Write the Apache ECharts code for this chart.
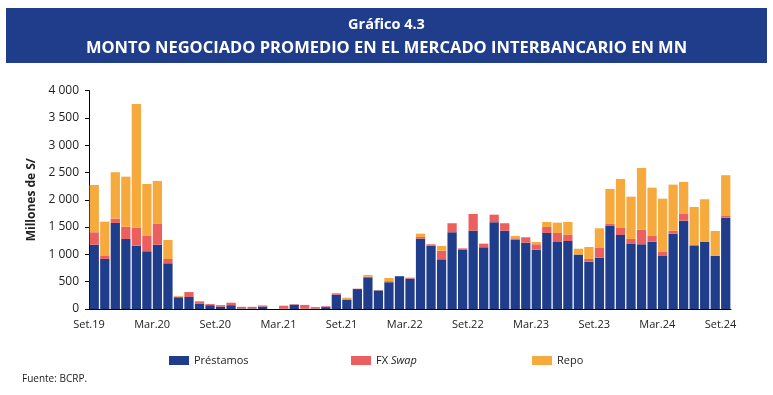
<!DOCTYPE html>
<html>
<head>
<meta charset="utf-8">
<script src="https://cdn.jsdelivr.net/npm/echarts@6/dist/echarts.min.js"></script>
<style>
html,body{margin:0;padding:0;background:#fff;}
#chart{width:773px;height:395px;}
</style>
</head>
<body>
<div id="chart"></div>
<script>
const categories = [
 'Set.19','Oct.19','Nov.19','Dic.19',
 'Ene.20','Feb.20','Mar.20','Abr.20','May.20','Jun.20','Jul.20','Ago.20','Set.20','Oct.20','Nov.20','Dic.20',
 'Ene.21','Feb.21','Mar.21','Abr.21','May.21','Jun.21','Jul.21','Ago.21','Set.21','Oct.21','Nov.21','Dic.21',
 'Ene.22','Feb.22','Mar.22','Abr.22','May.22','Jun.22','Jul.22','Ago.22','Set.22','Oct.22','Nov.22','Dic.22',
 'Ene.23','Feb.23','Mar.23','Abr.23','May.23','Jun.23','Jul.23','Ago.23','Set.23','Oct.23','Nov.23','Dic.23',
 'Ene.24','Feb.24','Mar.24','Abr.24','May.24','Jun.24','Jul.24','Ago.24','Set.24'
];
const prestamos = [
 1178, 916, 1575, 1282,
 1159, 1057, 1178, 837, 215, 220, 100, 70, 45, 70, 10, 10,
 45, 0, 5, 80, 5, 5, 35, 262, 170, 365, 580, 340,
 490, 600, 555, 1288, 1160, 910, 1405, 1080, 1434, 1130, 1588, 1434,
 1264, 1214, 1086, 1392, 1227, 1245, 995, 867, 940, 1520, 1355, 1190,
 1185, 1233, 971, 1379, 1617, 1154, 1227, 976, 1672
];
const fxSwap = [
 227, 55, 79, 225,
 330, 280, 379, 79, 10, 90, 40, 20, 25, 45, 30, 30,
 20, 0, 55, 8, 70, 30, 15, 25, 10, 7, 15, 8,
 20, 0, 18, 31, 25, 158, 165, 30, 306, 66, 139, 136,
 31, 99, 99, 110, 165, 116, 5, 49, 177, 37, 128, 92,
 267, 104, 73, 55, 123, 18, 0, 0, 31
];
const repo = [
 866, 628, 850, 916,
 2266, 952, 787, 348, 15, 0, 0, 0, 0, 0, 0, 0,
 0, 0, 0, 0, 0, 0, 0, 0, 27, 0, 28, 0,
 58, 0, 0, 60, 0, 86, 0, 0, 0, 0, 0, 0,
 42, 0, 42, 91, 189, 232, 104, 220, 361, 641, 898, 775,
 1130, 885, 976, 843, 586, 696, 782, 453, 746
];
const yTicks = [0,500,1000,1500,2000,2500,3000,3500,4000];

const chart = echarts.init(document.getElementById('chart'), null, {renderer:'canvas'});
const FONT = '"Open Sans", "Noto Sans", sans-serif';
const bandW = 642/61;

function legendItem(name, left){
  return {
    data:[name], left:left, top:350, itemWidth:20, itemHeight:9, icon:'rect',
    textStyle:{fontFamily:FONT, fontSize:11, color:'#222', rich:{i:{fontStyle:'italic', fontFamily:FONT, fontSize:11, color:'#222'}}},
    formatter: function(n){ return n === 'FX Swap' ? 'FX {i|Swap}' : n; },
    selectedMode:false
  };
}

chart.setOption({
  animation:false,
  backgroundColor:'#fff',
  graphic:[
    {type:'rect', shape:{x:6, y:8, width:761, height:55}, style:{fill:'#1f3d8a'}, z:0}
  ],
  title:[
    {text:'Gráfico 4.3', left:'center', top:12, textStyle:{color:'#fff', fontFamily:FONT, fontWeight:'bold', fontSize:14.5}},
    {text:'MONTO NEGOCIADO PROMEDIO EN EL MERCADO INTERBANCARIO EN MN', left:'center', top:35, textStyle:{color:'#fff', fontFamily:FONT, fontWeight:'bold', fontSize:16.5}},
    {text:'Fuente: BCRP.', left:17, top:369, textStyle:{color:'#222', fontFamily:FONT, fontWeight:'normal', fontSize:10}}
  ],
  legend:[ legendItem('Préstamos',164), legendItem('FX Swap',346), legendItem('Repo',527) ],
  grid:{left:89, right:42, top:90.5, bottom:86, containLabel:false},
  xAxis:{
    type:'category', data:categories, boundaryGap:true,
    axisLine:{lineStyle:{color:'#000', width:1}},
    axisTick:{interval:5, length:5, lineStyle:{color:'#000'}},
    axisLabel:{interval:5, fontFamily:FONT, fontSize:11, color:'#222', margin:10, padding:[0,bandW,0,0]}
  },
  yAxis:{
    type:'value', min:0, max:4000, interval:500,
    name:'Millones de S/', nameLocation:'middle', nameGap:46,
    nameTextStyle:{fontFamily:FONT, fontWeight:'bold', fontSize:12, color:'#222'},
    axisLine:{show:true, lineStyle:{color:'#000', width:1}},
    axisTick:{show:true, length:4, lineStyle:{color:'#000'}},
    splitLine:{show:false},
    axisLabel:{fontFamily:FONT, fontSize:12, color:'#222', margin:10,
      formatter:function(v){ return yTicks.indexOf(v) >= 0 ? String(v).replace(/\B(?=(\d{3})+(?!\d))/g,' ') : ''; }}
  },
  series:[
    {name:'Préstamos', type:'bar', stack:'t', data:prestamos, barCategoryGap:'12%', itemStyle:{color:'#1f3d8a'}},
    {name:'FX Swap', type:'bar', stack:'t', data:fxSwap, barCategoryGap:'12%', itemStyle:{color:'#ec5f5f'}},
    {name:'Repo', type:'bar', stack:'t', data:repo, barCategoryGap:'12%', itemStyle:{color:'#f6a93d'}}
  ]
});
</script>
</body>
</html>
